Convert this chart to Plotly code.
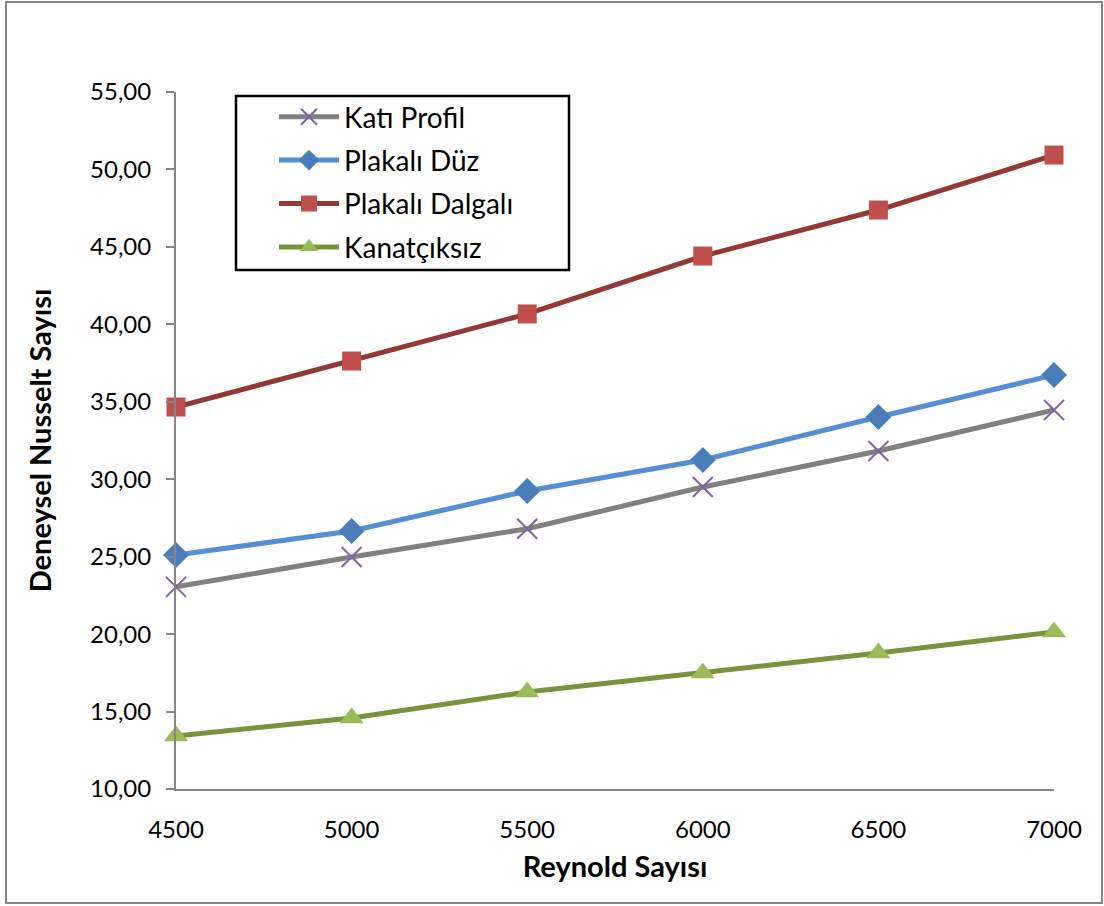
import plotly.graph_objects as go

# Reynolds numbers (x axis)
reynolds = [4500, 5000, 5500, 6000, 6500, 7000]

# Experimental Nusselt numbers for each configuration
kati_profil = [23.05, 24.98, 26.80, 29.50, 31.82, 34.47]
plakali_duz = [25.10, 26.66, 29.24, 31.24, 34.02, 36.73]
plakali_dalgali = [34.66, 37.63, 40.67, 44.41, 47.38, 50.93]
kanatciksiz = [13.42, 14.58, 16.26, 17.49, 18.78, 20.14]

series_names = ["Katı Profil", "Plakalı Düz", "Plakalı Dalgalı", "Kanatçıksız"]

y_ticks = [10, 15, 20, 25, 30, 35, 40, 45, 50, 55]
x_ticks = [4500, 5000, 5500, 6000, 6500, 7000]

FONT = "Lato"

fig = go.Figure()

styles = [
    dict(line_color="#808080", marker=dict(symbol="x-thin-open", size=20,
         color="#8064A2", line=dict(color="#8064A2", width=2))),
    dict(line_color="#558ED5", marker=dict(symbol="diamond", size=20,
         color="#4A7EBB", line=dict(width=0))),
    dict(line_color="#953735", marker=dict(symbol="square", size=19,
         color="#C0504D", line=dict(width=0))),
    dict(line_color="#77933C", marker=dict(symbol="triangle-up", size=21,
         color="#9BBB59", line=dict(width=0))),
]
values = [kati_profil, plakali_duz, plakali_dalgali, kanatciksiz]

for i, (name, vals, st) in enumerate(zip(series_names, values, styles)):
    fig.add_trace(go.Scatter(
        x=reynolds, y=vals, name=name, mode="lines+markers",
        line=dict(color=st["line_color"], width=5),
        marker=st["marker"], legendgroup=f"g{i}", cliponaxis=False,
    ))

W, H = 1104, 906
L, R, T, B = 176, 50, 92, 117
pw, ph = W - L - R, H - T - B

def px_x(p):
    return (p - L) / pw

def px_y(p):
    return (H - B - p) / ph

fig.update_layout(
    width=W, height=H,
    margin=dict(l=L, r=R, t=T, b=B),
    paper_bgcolor="white", plot_bgcolor="white",
    separators=",.",
    font=dict(family=FONT, size=24, color="black"),
    showlegend=True,
    legend=dict(
        x=px_x(274), y=px_y(92), xanchor="left", yanchor="top",
        borderwidth=0, bgcolor="rgba(0,0,0,0)",
        font=dict(family=FONT, size=28, color="black"),
        tracegroupgap=4, itemwidth=60,
    ),
    xaxis=dict(
        range=[4500, 7000], tickvals=x_ticks, ticks="", showgrid=False,
        showline=True, linecolor="#868686", linewidth=2, zeroline=False,
        ticklabelstandoff=18,
        title=dict(text="<b>Reynold Sayısı</b>", font=dict(family=FONT, size=29),
                   standoff=15),
    ),
    yaxis=dict(
        range=[10, 55], tickvals=y_ticks, tickformat=".2f", ticks="outside",
        ticklen=8, tickcolor="#868686", tickwidth=2, showgrid=False,
        showline=True, linecolor="#868686", linewidth=2, zeroline=False,
        ticklabelstandoff=10,
        title=dict(text="<b>Deneysel Nusselt Sayısı</b>",
                   font=dict(family=FONT, size=29), standoff=30),
    ),
    shapes=[
        # outer chart frame
        dict(type="rect", xref="paper", yref="paper",
             x0=px_x(6), x1=px_x(1102), y0=px_y(903), y1=px_y(2),
             line=dict(color="#868686", width=2), layer="below"),
        # legend frame
        dict(type="rect", xref="paper", yref="paper",
             x0=px_x(236), x1=px_x(569), y0=px_y(270), y1=px_y(96),
             line=dict(color="black", width=2.5), fillcolor="white",
             layer="below"),
    ],
)

fig.write_html("out.html")
